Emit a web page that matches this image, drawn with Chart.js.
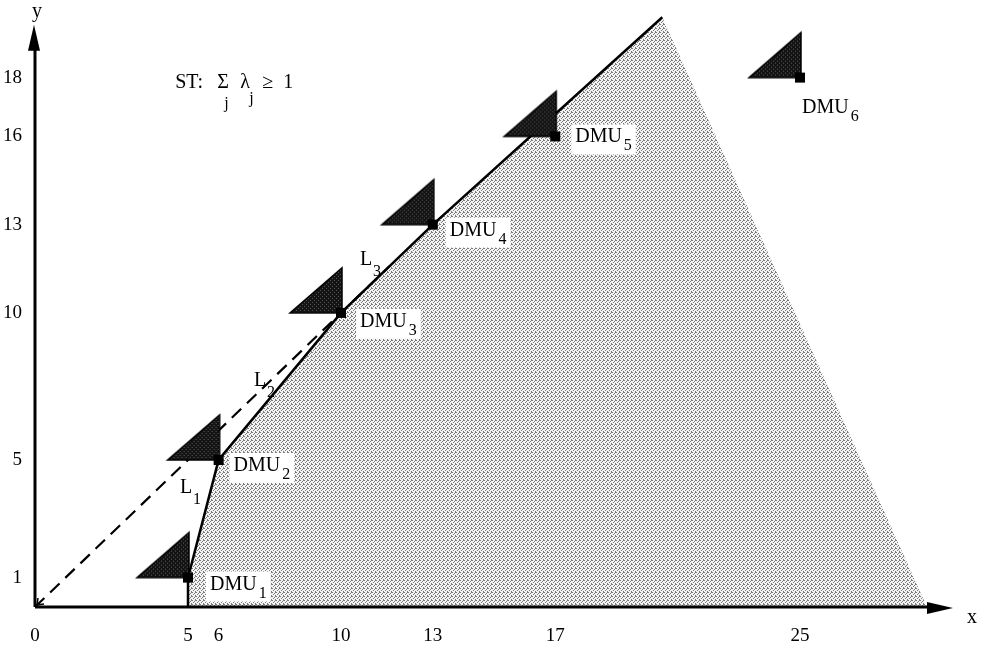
<!DOCTYPE html>
<html>
<head>
<meta charset="utf-8">
<script src="https://cdn.jsdelivr.net/npm/chart.js@4.4.1/dist/chart.umd.min.js"></script>
<style>
  html, body { margin: 0; padding: 0; background: #fff; }
  #wrap { width: 982px; height: 654px; }
</style>
</head>
<body>
<div id="wrap"><canvas id="dea"></canvas></div>
<script>
'use strict';

// DMU inputs (x) / outputs (y)
const dmuSubs = ['1', '2', '3', '4', '5', '6'];
const dmuX = [5, 6, 10, 13, 17, 25];
const dmuY = [1, 5, 10, 13, 16, 18];

// efficient frontier with sum(lambda) >= 1
const frontierX = [5, 5, 6, 10, 13, 20.5];
const frontierY = [0, 1, 5, 10, 13, 20.05];

// production possibility set (frontier + far edge down to the x axis)
const hullX = [5, 5, 6, 10, 13, 20.5, 29.15];
const hullY = [0, 1, 5, 10, 13, 20.05, 0];

// CRS ray from the origin
const rayX = [0, 11.6];
const rayY = [0, 11.6];

const xTicks = [0, 5, 6, 10, 13, 17, 25];
const yTicks = [1, 5, 10, 13, 16, 18];

const SERIF = '"Liberation Serif", "DejaVu Serif", serif';

// label placement, pixels from each DMU point (left of "DMU", baseline)
const dmuLabelOffsets = [[22, 12], [15, 11], [19, 14], [17, 11], [20, 6], [2, 35]];
// segment labels, data coords
const segLabels = [
  { sub: '1', x: 4.74, y: 3.86 },
  { sub: '2', x: 7.16, y: 7.51 },
  { sub: '3', x: 10.62, y: 11.64 }
];

function pts(xs, ys) {
  return xs.map((x, i) => ({ x: x, y: ys[i] }));
}

const canvas = document.getElementById('dea');
const ctx0 = canvas.getContext('2d');

// halftone-ish fill
function stipple(bg, fg, dots) {
  const c = document.createElement('canvas');
  c.width = c.height = 4;
  const g = c.getContext('2d');
  g.fillStyle = bg;
  g.fillRect(0, 0, 4, 4);
  g.fillStyle = fg;
  dots.forEach(d => g.fillRect(d[0], d[1], 1, 1));
  return c;
}
const shadeTile = stipple('#f4f4f4', '#7a7a7a', [[0, 0], [2, 1], [1, 2], [3, 3], [3, 0]]);
const shadePattern = ctx0.createPattern(shadeTile, 'repeat');

// flag marker: dark triangle up-left of the point + square at the point
function flagMarker() {
  const w = 112, h = 100, cx = w / 2, cy = h / 2;
  const c = document.createElement('canvas');
  c.width = w; c.height = h;
  const g = c.getContext('2d');
  const tile = stipple('#141414', '#5a5a5a', [[1, 1], [3, 3]]);
  g.fillStyle = g.createPattern(tile, 'repeat');
  g.beginPath();
  g.moveTo(cx - 51, cy);
  g.lineTo(cx + 1, cy);
  g.lineTo(cx + 1, cy - 45);
  g.closePath();
  g.fill();
  g.strokeStyle = '#000';
  g.lineWidth = 1.5;
  g.stroke();
  g.fillStyle = '#000';
  g.fillRect(cx - 5, cy - 5, 10, 10);
  return c;
}
const marker = flagMarker();

// axes with arrow heads, plus all the text
const overlay = {
  id: 'overlay',
  afterDatasetsDraw(chart) {
    const ctx = chart.ctx;
    const sx = chart.scales.x, sy = chart.scales.y;
    const X = v => sx.getPixelForValue(v);
    const Y = v => sy.getPixelForValue(v);
    const ox = X(0), oy = Y(0);
    const xEnd = X(30), yEnd = Y(19.8);

    ctx.save();
    ctx.strokeStyle = '#000';
    ctx.fillStyle = '#000';
    ctx.lineWidth = 3;
    ctx.beginPath();
    ctx.moveTo(ox, oy); ctx.lineTo(xEnd - 20, oy);
    ctx.moveTo(ox, oy); ctx.lineTo(ox, yEnd + 20);
    ctx.stroke();
    // x arrow
    ctx.beginPath();
    ctx.moveTo(xEnd, oy + 1);
    ctx.lineTo(xEnd - 26, oy - 5);
    ctx.lineTo(xEnd - 26, oy + 7);
    ctx.closePath(); ctx.fill();
    // y arrow
    ctx.beginPath();
    ctx.moveTo(ox - 1, yEnd);
    ctx.lineTo(ox - 7, yEnd + 26);
    ctx.lineTo(ox + 5, yEnd + 26);
    ctx.closePath(); ctx.fill();
    // small head on the ray at the origin
    ctx.lineWidth = 1.5;
    ctx.beginPath();
    ctx.moveTo(ox + 9, oy - 3); ctx.lineTo(ox + 2, oy - 2); ctx.lineTo(ox + 3, oy - 9);
    ctx.stroke();

    ctx.textBaseline = 'alphabetic';
    ctx.textAlign = 'left';
    ctx.font = '20px ' + SERIF;
    ctx.fillText('x', xEnd + 14, oy + 16);
    ctx.fillText('y', ox - 3, yEnd - 8);

    // DMU labels
    dmuSubs.forEach((sub, i) => {
      const tx = X(dmuX[i]) + dmuLabelOffsets[i][0];
      const ty = Y(dmuY[i]) + dmuLabelOffsets[i][1];
      ctx.font = '20px ' + SERIF;
      const w = ctx.measureText('DMU').width;
      ctx.font = '16px ' + SERIF;
      const sw = ctx.measureText(sub).width;
      ctx.fillStyle = '#fff';
      ctx.fillRect(tx - 4, ty - 18, w + sw + 10, 30);
      ctx.fillStyle = '#000';
      ctx.font = '20px ' + SERIF;
      ctx.fillText('DMU', tx, ty);
      ctx.font = '16px ' + SERIF;
      ctx.fillText(sub, tx + w + 2, ty + 8);
    });

    // L1..L3
    segLabels.forEach(s => {
      const tx = X(s.x), ty = Y(s.y);
      ctx.font = '20px ' + SERIF;
      ctx.fillText('L', tx, ty);
      ctx.font = '16px ' + SERIF;
      ctx.fillText(s.sub, tx + 13, ty + 11);
    });

    // constraint note
    const nx = X(4.58), ny = Y(17.66);
    ctx.font = '20px ' + SERIF;
    ctx.fillText('ST:', nx, ny);
    ctx.fillText('\u03A3', nx + 42, ny);
    ctx.fillText('\u03BB', nx + 65, ny);
    ctx.fillText('\u2265', nx + 87, ny);
    ctx.fillText('1', nx + 108, ny);
    ctx.font = '16px ' + SERIF;
    ctx.fillText('j', nx + 49, ny + 20);
    ctx.fillText('j', nx + 74, ny + 15);
    ctx.restore();
  }
};

new Chart(canvas, {
  type: 'scatter',
  data: {
    datasets: [
      {
        label: 'DMU',
        data: pts(dmuX, dmuY),
        pointStyle: marker,
        pointRadius: 6,
        order: 0
      },
      {
        label: 'CRS ray',
        data: pts(rayX, rayY),
        showLine: true,
        borderColor: '#000',
        borderWidth: 2.2,
        borderDash: [13, 8],
        pointRadius: 0,
        order: 1
      },
      {
        label: 'frontier',
        data: pts(frontierX, frontierY),
        showLine: true,
        borderColor: '#000',
        borderWidth: 2.5,
        pointRadius: 0,
        order: 2
      },
      {
        label: 'PPS',
        data: pts(hullX, hullY),
        showLine: true,
        borderWidth: 0,
        borderColor: 'rgba(0,0,0,0)',
        backgroundColor: shadePattern,
        fill: 'origin',
        pointRadius: 0,
        order: 3
      }
    ]
  },
  options: {
    responsive: true,
    maintainAspectRatio: false,
    animation: false,
    devicePixelRatio: 1,
    layout: { padding: { top: 4, right: 29, left: 0, bottom: 0 } },
    scales: {
      x: {
        type: 'linear',
        min: 0,
        max: 30,
        grid: { display: false },
        border: { display: false },
        afterBuildTicks: s => { s.ticks = xTicks.map(v => ({ value: v })); },
        afterFit: s => { s.height = 47; s.paddingLeft = 0; s.paddingRight = 0; },
        ticks: {
          autoSkip: false,
          maxRotation: 0,
          padding: 10,
          color: '#000',
          font: { family: SERIF, size: 19 }
        }
      },
      y: {
        type: 'linear',
        min: 0,
        max: 20.4,
        grid: { display: false },
        border: { display: false },
        afterBuildTicks: s => { s.ticks = yTicks.map(v => ({ value: v })); },
        afterFit: s => { s.width = 35; s.paddingTop = 0; s.paddingBottom = 0; },
        ticks: {
          autoSkip: false,
          padding: 5,
          color: '#000',
          font: { family: SERIF, size: 19 }
        }
      }
    },
    plugins: {
      legend: { display: false },
      tooltip: { enabled: false }
    }
  },
  plugins: [overlay]
});
</script>
</body>
</html>
